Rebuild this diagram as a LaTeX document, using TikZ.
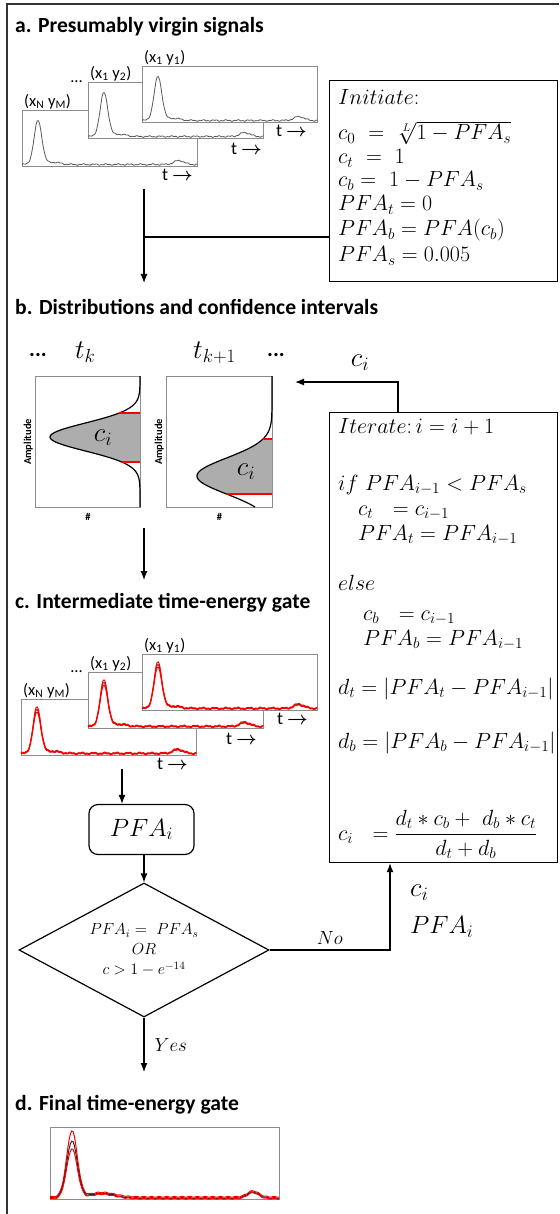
\documentclass[tikz,border=0pt]{standalone}
\usepackage{fix-cm}
\usepackage{amsmath}
\usepackage{fontspec}
\newfontfamily\calibri{Carlito}
\usetikzlibrary{arrows.meta, shapes.geometric, positioning, calc}

\begin{document}
\begin{tikzpicture}[x=1pt, y=-1pt,
    declare function={gau(\u)=exp(-0.5*\u*\u);
      sigA(\x)=44*exp(-((\x-16)/5.5)^2)+2.2*exp(-((\x-32)/9)^2)+1.5+0.5*sin(31*\x)+0.4*sin(83*\x)+4*exp(-((\x-157)/7)^2);
      sigD(\x,\a)=\a*exp(-((\x-22)/7.5)^2)+4.5*exp(-((\x-52)/18)^2)+1.0+0.4*sin(47*\x)+6*exp(-((\x-203)/8)^2);},
    frame/.style={line width=2pt, black!80},
    title/.style={anchor=base west, inner sep=0pt, font=\calibri\bfseries\fontsize{21.6}{24}\selectfont},
    panel/.style={draw=black!45, line width=1pt, fill=white, anchor=north west, inner sep=0pt, minimum width=175pt, minimum height=56pt},
    wave/.style={black!65, line width=0.8pt},
    redwave/.style={red, line width=1pt},
    coordlbl/.style={font=\calibri\fontsize{16.5}{18}\selectfont, inner sep=1pt},
    tlbl/.style={font=\calibri\fontsize{18}{20}\selectfont, inner sep=1pt},
    mathbox/.style={draw, line width=1.2pt, anchor=north west, inner sep=0pt},
    mline/.style={anchor=base west, inner sep=0pt, font=\fontsize{22}{25}\selectfont},
    big/.style={font=\fontsize{27}{30}\selectfont, inner sep=0pt},
    dots/.style={anchor=base, inner sep=0pt, font=\calibri\bfseries\fontsize{22}{24}\selectfont},
    distbox/.style={draw=black!45, line width=1pt, anchor=north west, inner sep=0pt, minimum height=131pt},
    dist/.style={line width=1.2pt},
    conf/.style={red, line width=1.4pt},
    axlbl/.style={font=\calibri\bfseries\fontsize{10.5}{12}\selectfont, inner sep=1pt},
    flow/.style={line width=1.2pt, -{Latex[length=9pt, width=7pt]}},
    link/.style={line width=1.2pt},
    pfabox/.style={draw, line width=1.2pt, rounded corners=9pt, minimum width=105pt, minimum height=50pt, font=\fontsize{25}{30}\selectfont},
    decide/.style={diamond, aspect=1.87, draw, line width=1.2pt, minimum width=250pt, minimum height=134pt, inner sep=0pt, align=center, font=\fontsize{16}{20}\selectfont},
    flowlbl/.style={font=\fontsize{19}{22}\selectfont, inner sep=2pt}]

    \useasboundingbox (0,0) rectangle (559,1214);
    \draw[frame] (7,1214) -- (7,4.5) -- (559,4.5);

    % a. Presumably virgin signals
    \node[title] (ta) at (15,33) {a. Presumably virgin signals};
    \foreach \p/\px/\py in {aN/22/110, a2/88/82, a1/142/66}{
        \node[panel] (\p) at (\px,\py) {};
        \draw[wave] plot[domain=0:175, samples=150] ({\px+\x},{\py+56-sigA(\x)});
    }
    \node[coordlbl, above right=0pt and 1pt of a1.north west] {(x\textsubscript{1} y\textsubscript{1})};
    \node[coordlbl, above right=0pt and 1pt of a2.north west] {(x\textsubscript{1} y\textsubscript{2})};
    \node[coordlbl, above right=0pt and 1pt of aN.north west] {(x\textsubscript{N} y\textsubscript{M})};
    \node[coordlbl, left=4pt of a2.north west] {...};
    \node[tlbl, below left=1pt and 10pt of a1.south east] {t $\boldsymbol{\rightarrow}$};
    \node[tlbl, below left=3pt and 1pt of a2.south east] {t $\boldsymbol{\rightarrow}$};
    \node[tlbl, below left=1pt and 4pt of aN.south east] {t $\boldsymbol{\rightarrow}$};

    \node[mathbox, minimum width=228pt, minimum height=201pt] (init) at (329,80) {};
    \node[mline] (in1) at (338,105) {$Initiate{:}$};
    \node[mline] (in2) at (338,140) {$c_0\ =\ \sqrt[L]{1-PFA_s}$};
    \node[mline] (in3) at (338,164) {$c_t\ =\ 1$};
    \node[mline] (in4) at (338,187) {$c_b =\ 1-PFA_s$};
    \node[mline] (in5) at (338,211) {$PFA_t = 0$};
    \node[mline] (in6) at (338,236) {$PFA_b = PFA(c_b)$};
    \node[mline] (in7) at (338,262) {$PFA_s = 0.005$};

    \coordinate (adown) at (144,189);
    \coordinate (ajoin) at (144,237);
    \coordinate (bin) at (144,283);
    \draw[flow] (adown) -- (bin);
    \draw[link] (ajoin) -- (ajoin -| init.west);

    % b. Distributions and confidence intervals
    \node[title] (tb) at (15,314) {b. Distributions and confidence intervals};
    \node[dots] (dotl) at (38,356) {...};
    \node[big, anchor=base west] (tk) at (75,358) {$t_k$};
    \node[big, anchor=base west] (tk1) at (193,358) {$t_{k+1}$};
    \node[dots] (dotr) at (276,356) {...};

    \node[distbox, minimum width=105pt] (dk) at (35,376) {};
    \fill[black!32] plot[domain=413:462, samples=40] ({140-90*gau((\x-437)/14)},\x) -- (140,462) -- (140,413) -- cycle;
    \draw[dist] plot[domain=376:507, samples=100] ({140-90*gau((\x-437)/14)},\x);
    \draw[conf] ({140-90*gau(-24/14)},413) -- (140,413);
    \draw[conf] ({140-90*gau(25/14)},462) -- (140,462);
    \node[big] (cik) at (103,438) {$c_i$};

    \node[distbox, minimum width=106pt] (dk1) at (166,376) {};
    \fill[black!32] plot[domain=439:494, samples=40] ({272-75*gau((\x-476)/18)},\x) -- (272,494) -- (272,439) -- cycle;
    \draw[dist] plot[domain=376:507, samples=100] ({272-75*gau((\x-476)/18)},\x);
    \draw[conf] ({272-75*gau(-37/18)},439) -- (272,439);
    \draw[conf] ({272-75*gau(18/18)},494) -- (272,494);
    \node[big] (cik1) at (246,472) {$c_i$};

    \node[axlbl, rotate=90, anchor=south] at ([xshift=-1pt]dk.west) {Amplitude};
    \node[axlbl, rotate=90, anchor=south] at ([xshift=-1pt]dk1.west) {Amplitude};
    \node[axlbl, below=4pt of dk.south] {\#};
    \node[axlbl, below=4pt of dk1.south] {\#};

    \node[mathbox, minimum width=228pt, minimum height=450pt] (iter) at (329,412) {};
    \node[mline] (it1) at (338,433) {$Iterate{:}\,i = i+1$};
    \node[mline] (it2) at (338,490) {$if\ PFA_{i-1} < PFA_s$};
    \node[mline] (it3) at (358,515) {$c_t\ \ = c_{i-1}$};
    \node[mline] (it4) at (358,540) {$PFA_t = PFA_{i-1}$};
    \node[mline] (it5) at (338,590) {$else$};
    \node[mline] (it6) at (363,620) {$c_b\ \ = c_{i-1}$};
    \node[mline] (it7) at (363,645) {$PFA_b = PFA_{i-1}$};
    \node[mline] (it8) at (338,694) {$d_t = |PFA_t - PFA_{i-1}|$};
    \node[mline] (it9) at (338,748) {$d_b = |PFA_b - PFA_{i-1}|$};
    \node[mline] (it10) at (338,840) {$c_i\ \ = \dfrac{d_t * c_b +\ d_b * c_t}{d_t + d_b}$};

    \coordinate (cin) at (295,382);
    \draw[flow] ([xshift=69pt]iter.north west) |- (cin);
    \node[big] (cifb) at (360,363) {$c_i$};

    \coordinate (bdown) at (144,528);
    \coordinate (cin2) at (144,580);
    \draw[flow] (bdown) -- (cin2);

    % c. Intermediate time-energy gate
    \node[title] (tc) at (15,608) {c. Intermediate time-energy gate};
    \foreach \p/\px/\py in {cN/21/699, c2/88/672, c1/142/654}{
        \node[panel] (\p) at (\px,\py) {};
        \draw[wave, black!85] plot[domain=0:175, samples=150] ({\px+\x},{\py+56-sigA(\x)});
        \draw[redwave] plot[domain=0:175, samples=150] ({\px+\x},{\py+56-1.05*sigA(\x)-0.5});
        \draw[redwave] plot[domain=0:175, samples=150] ({\px+\x},{\py+56-0.95*sigA(\x)+0.3});
    }
    \node[coordlbl, above right=0pt and 1pt of c1.north west] {(x\textsubscript{1} y\textsubscript{1})};
    \node[coordlbl, above right=0pt and 1pt of c2.north west] {(x\textsubscript{1} y\textsubscript{2})};
    \node[coordlbl, above right=0pt and 1pt of cN.north west] {(x\textsubscript{N} y\textsubscript{M})};
    \node[coordlbl, left=4pt of c2.north west] {...};
    \node[tlbl, below left=1pt and 9pt of c1.south east] {t $\boldsymbol{\rightarrow}$};
    \node[tlbl, below left=3pt and 6pt of c2.south east] {t $\boldsymbol{\rightarrow}$};
    \node[tlbl, below left=1pt and 8pt of cN.south east] {t $\boldsymbol{\rightarrow}$};

    \node[pfabox] (pfa) at (141.5,829.5) {$PFA_i$};
    \coordinate (cdown) at (122,769);
    \draw[flow] (cdown) -- (cdown |- pfa.north);

    \node[decide] (dec) at (144,950) {$PFA_i =\ PFA_s$\\$OR$\\$c > 1 - e^{-14}$};
    \draw[flow] (pfa.south -| dec.north) -- (dec.north);

    \coordinate (noup) at (390,950);
    \draw[flow] (dec.east) -- (noup) node[flowlbl, midway, above=3pt] {$No$} -- (noup |- iter.south);
    \node[big, anchor=west] (cinfo) at (410,893) {$c_i$};
    \node[big, anchor=west, font=\fontsize{25}{30}\selectfont] (pfainfo) at (410,927) {$PFA_i$};

    \coordinate (dend) at (144,1072);
    \draw[flow] (dec.south) -- (dend) node[flowlbl, midway, right=8pt] {$Yes$};

    % d. Final time-energy gate
    \node[title] (td) at (15,1110) {d. Final time-energy gate};
    \node[panel, minimum width=229pt, minimum height=72pt] (dsig) at (50,1127) {};
    \draw[redwave] plot[domain=0:229, samples=180] ({50+\x},{1199-sigD(\x,66)-1.2});
    \draw[wave, black!85, line width=1pt] plot[domain=0:229, samples=180] ({50+\x},{1199-sigD(\x,57)});
    \draw[redwave] plot[domain=0:229, samples=180] ({50+\x},{1199-sigD(\x,50)+0.8});
\end{tikzpicture}
\end{document}
